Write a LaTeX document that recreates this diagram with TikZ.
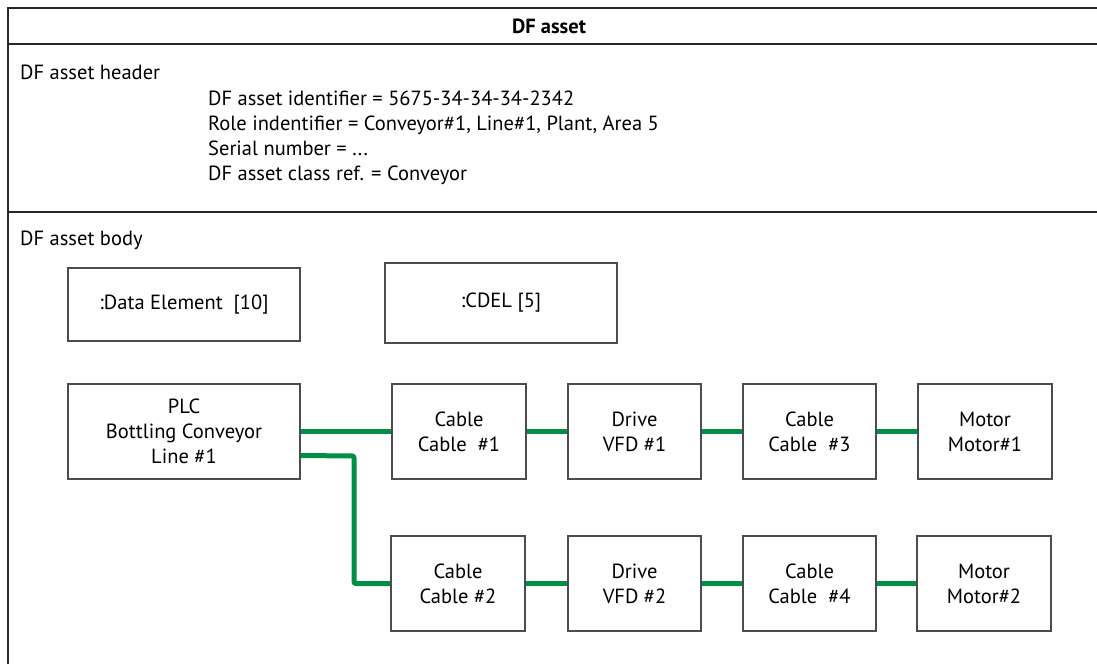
\documentclass[tikz,border=0pt]{standalone}
\usepackage{fontspec}
\setmainfont{PT Sans}
\begin{document}
\begin{tikzpicture}[x=1pt,y=-1pt,
  frame/.style={draw=black!85,line width=1.2pt},
  blk/.style={draw=black!70,line width=1.1pt,fill=white,align=center,font=\fontsize{20.5}{25}\selectfont,inner sep=0pt},
  wire/.style={draw={rgb,255:red,0;green,143;blue,69},line width=5pt},
  txt/.style={font=\fontsize{20.5}{25}\selectfont,inner sep=0pt}]
\useasboundingbox (0,0) rectangle (1097,664);
% frame
\draw[frame] (8,664) -- (8,8) -- (1097,8);
\draw[frame] (8,44) -- (1097,44);
\draw[frame] (8,212) -- (1097,212);
\node[txt,font=\fontsize{20.5}{25}\selectfont\bfseries,anchor=base] (title) at (549,33) {DF asset};
\node[txt,anchor=base west] (hdr) at (20,79) {DF asset header};
\node[txt,anchor=base west] (h1) at (208,105) {DF asset identifier = 5675-34-34-34-2342};
\node[txt,anchor=base west] (h2) at (208,130) {Role indentifier = Conveyor\#1, Line\#1, Plant, Area 5};
\node[txt,anchor=base west] (h3) at (208,155) {Serial number = ...};
\node[txt,anchor=base west] (h4) at (208,180) {DF asset class ref. = Conveyor};
\node[txt,anchor=base west] (body) at (20,245) {DF asset body};
% boxes
\node[blk,minimum width=232pt,minimum height=73pt] (de) at (184,304.5) {:Data Element\ \ [10]};
\node[blk,minimum width=232pt,minimum height=80pt] (cdel) at (501,303) {:CDEL [5]};
\node[blk,minimum width=232pt,minimum height=95pt] (plc) at (184,431.5) {PLC\\Bottling Conveyor\\Line \#1};
\node[blk,minimum width=134pt,minimum height=95pt] (c1) at (459,431.5) {Cable\\Cable\ \ \#1};
\node[blk,minimum width=133pt,minimum height=95pt] (d1) at (634.5,431.5) {Drive\\VFD \#1};
\node[blk,minimum width=133pt,minimum height=95pt] (c3) at (809.5,431.5) {Cable\\Cable\ \ \#3};
\node[blk,minimum width=134pt,minimum height=95pt] (m1) at (985,431.5) {Motor\\Motor\#1};
\node[blk,minimum width=134pt,minimum height=95pt] (c2) at (458,583.5) {Cable\\Cable \#2};
\node[blk,minimum width=133pt,minimum height=95pt] (d2) at (634.5,583.5) {Drive\\VFD \#2};
\node[blk,minimum width=133pt,minimum height=95pt] (c4) at (809.5,583.5) {Cable\\Cable\ \ \#4};
\node[blk,minimum width=134pt,minimum height=95pt] (m2) at (984,583.5) {Motor\\Motor\#2};
% wires
\coordinate (p2) at ([yshift=-24pt]plc.east);
\draw[wire] (plc.east) -- (c1.west);
\draw[wire] (c1.east) -- (d1.west);
\draw[wire] (d1.east) -- (c3.west);
\draw[wire] (c3.east) -- (m1.west);
\draw[wire,rounded corners=2pt] (p2) -- (354,456) -- (354,583.5) -- (c2.west);
\draw[wire] (c2.east) -- (d2.west);
\draw[wire] (d2.east) -- (c4.west);
\draw[wire] (c4.east) -- (m2.west);
\end{tikzpicture}
\end{document}
